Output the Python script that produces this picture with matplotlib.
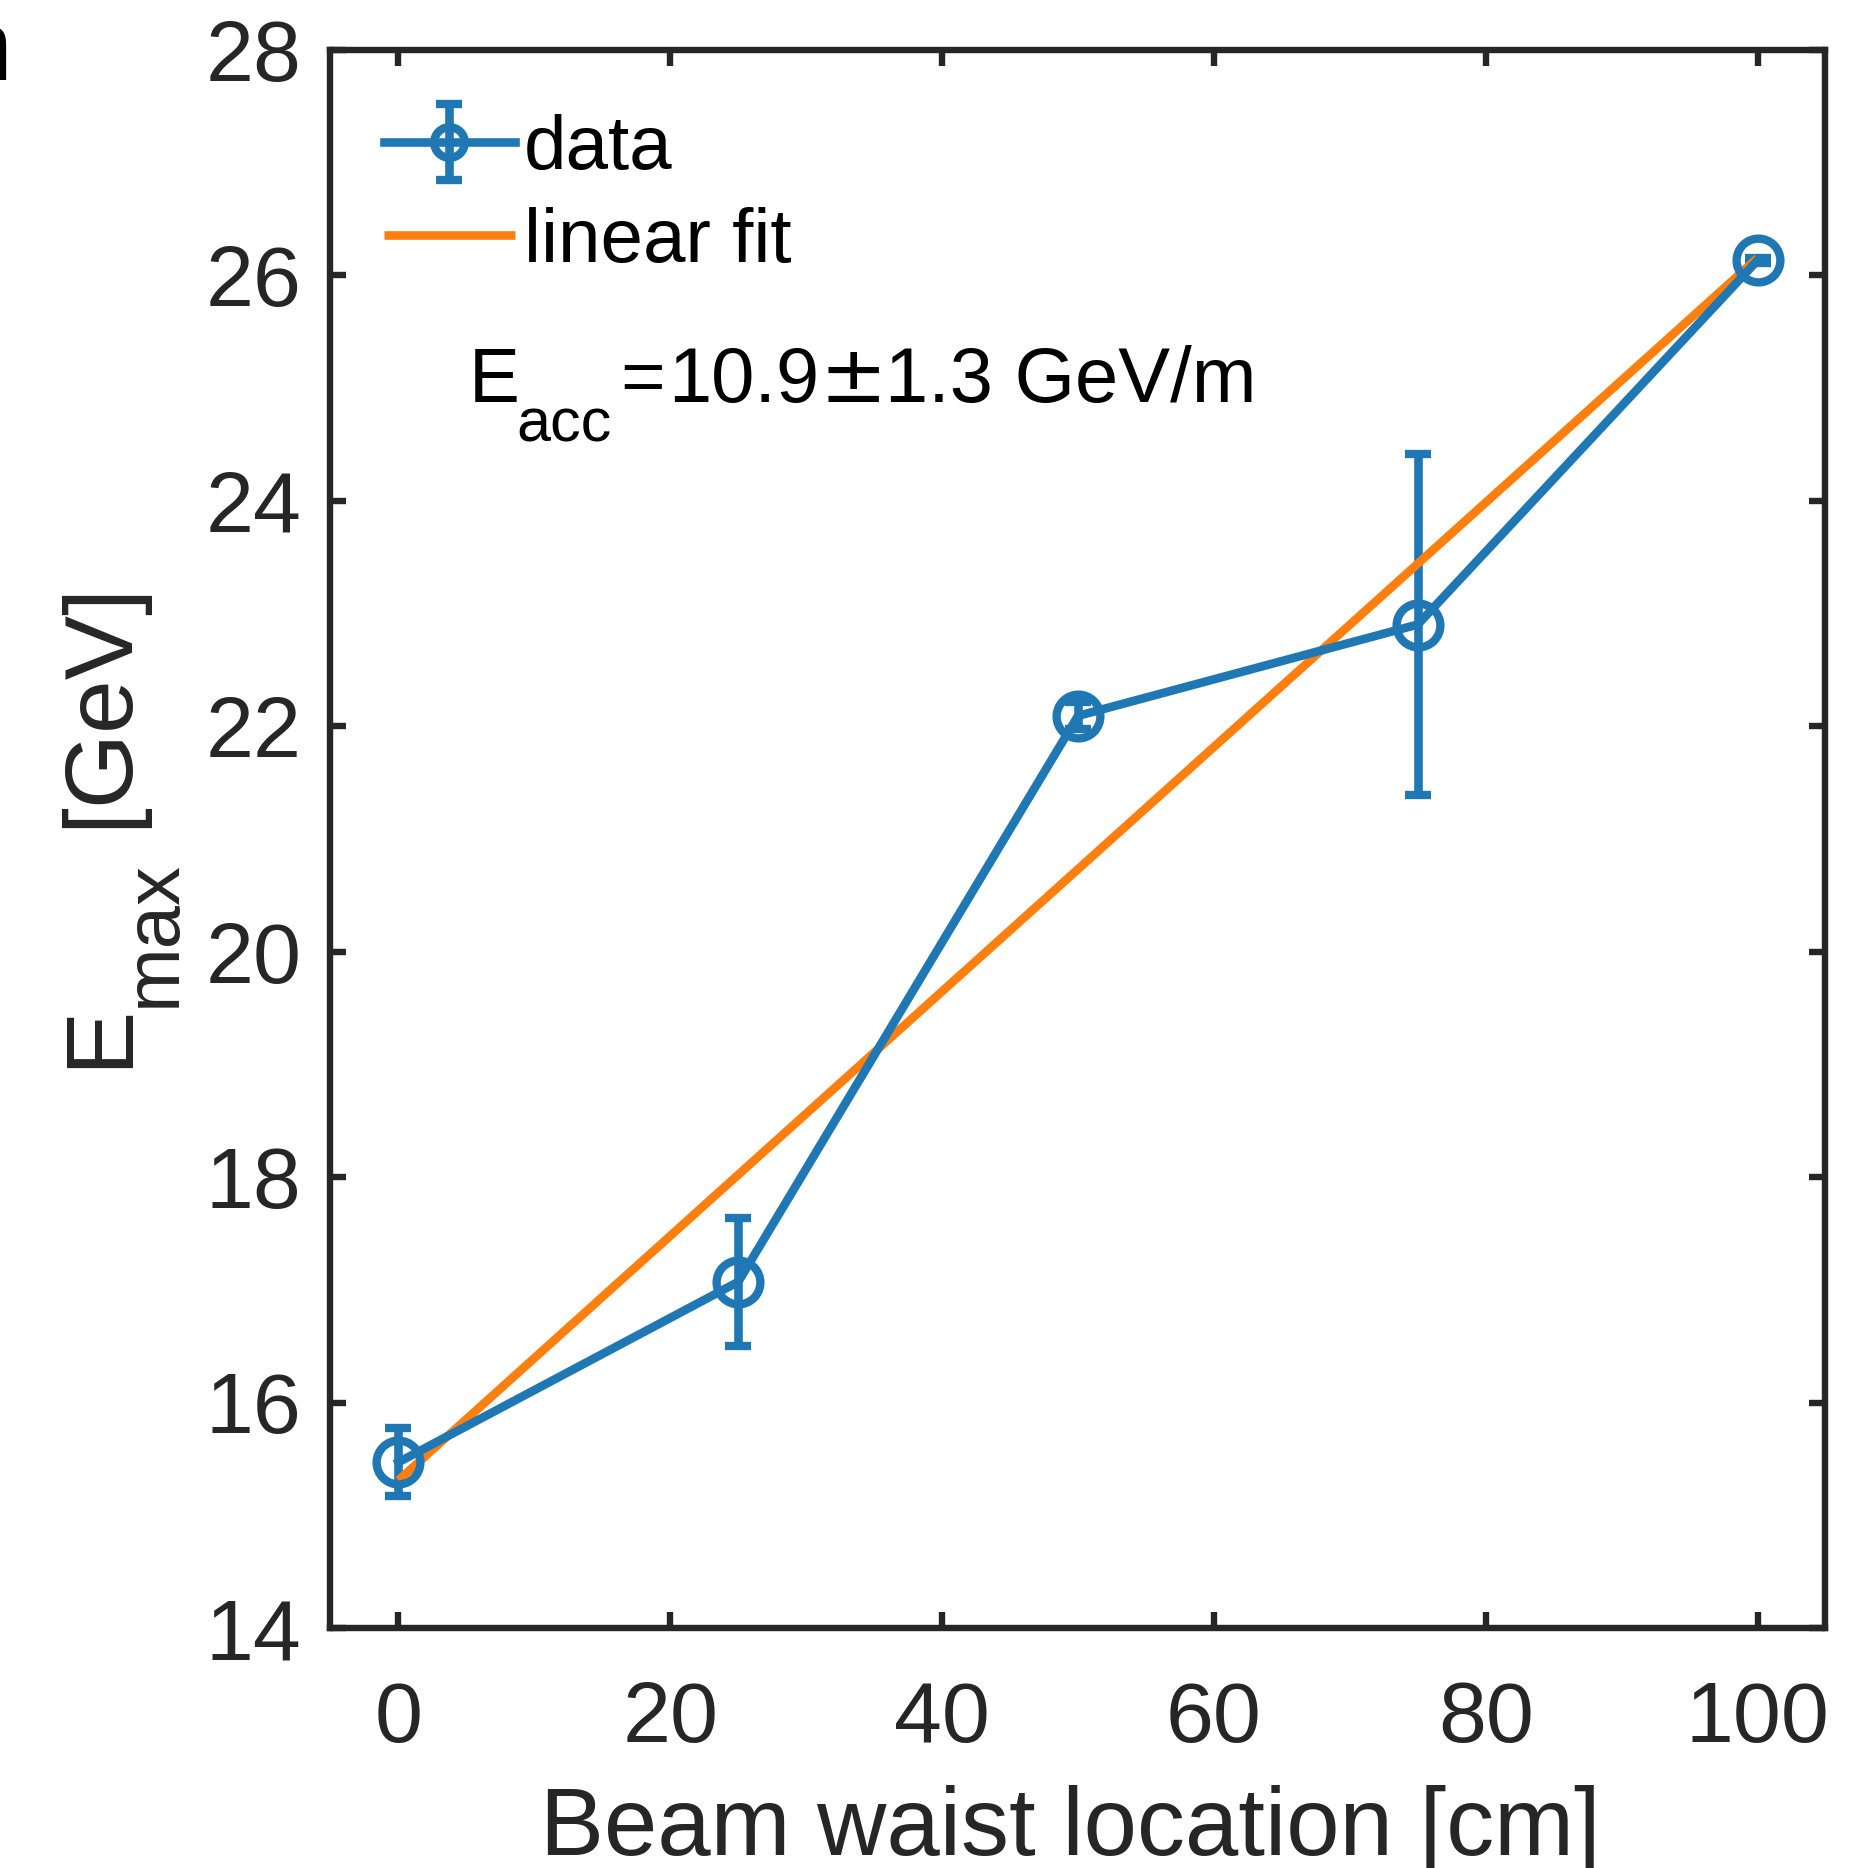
import matplotlib
matplotlib.use('Agg')
import matplotlib.pyplot as plt

W, H = 1874, 1868
DPI = 100

# ---- data ----
waist_cm = [0, 25, 50, 75, 100]
e_max_gev = [15.47, 17.07, 22.09, 22.90, 26.13]
e_max_err = [0.30, 0.57, 0.12, 1.51, 0.02]
fit_x = [0, 100]
fit_y = [15.31, 26.15]
x_ticks = [0, 20, 40, 60, 80, 100]
y_ticks = [14, 16, 18, 20, 22, 24, 26, 28]
legend_labels = ['data', 'linear fit']

BLUE = '#1f77b4'
ORANGE = '#ff7f0e'
DARK = '#262626'

plt.rcParams['font.family'] = ['Liberation Sans', 'DejaVu Sans']

fig = plt.figure(figsize=(W / DPI, H / DPI), dpi=DPI)


def fx(px):
    return px / W


def fy(py):
    return 1 - py / H


AX_L, AX_R, AX_T, AX_B = 330.5, 1825.5, 49.5, 1628
ax = fig.add_axes([fx(AX_L), fy(AX_B), (AX_R - AX_L) / W, (AX_B - AX_T) / H])

LW = 6.2
h_data = ax.errorbar(waist_cm, e_max_gev, yerr=e_max_err, fmt='-o', color=BLUE,
                     lw=LW, ms=31.5, mfc='none', mew=6.0, capsize=9.7,
                     capthick=LW, elinewidth=LW, label=legend_labels[0])
h_fit, = ax.plot(fit_x, fit_y, '-', color=ORANGE, lw=LW,
                 solid_capstyle='butt', label=legend_labels[1])

ax.set_xlim(-5, 105)
ax.set_ylim(14, 28)
ax.set_xticks(x_ticks)
ax.set_yticks(y_ticks)
ax.tick_params(axis='both', which='major', direction='in', length=11.5,
               width=4.6, colors=DARK, labelsize=62, top=True, right=True)
ax.tick_params(axis='x', pad=37.4)
ax.tick_params(axis='y', pad=21)
for s in ax.spines.values():
    s.set_linewidth(4.6)
    s.set_color(DARK)

ax.set_xlabel('Beam waist location [cm]', fontsize=69, color=DARK)
ax.xaxis.set_label_coords((1070 - AX_L) / (AX_R - AX_L), -(1785 - AX_B) / (AX_B - AX_T))

leg = ax.legend(handles=[h_data, h_fit], labels=legend_labels,
                loc='upper left', bbox_to_anchor=(fx(384), fy(114)),
                bbox_transform=fig.transFigure, frameon=False, borderpad=0,
                borderaxespad=0, handlelength=1.71, handletextpad=0.12,
                labelspacing=0.29, fontsize=55, markerscale=0.7)
for t in leg.get_texts():
    t.set_color('black')

# y label (rotated, with subscript)
fig.text(fx(126), fy(1068), 'E', rotation=90, rotation_mode='anchor',
         ha='left', va='baseline', fontsize=69.5, color=DARK)
fig.text(fx(175), fy(1007), 'max', rotation=90, rotation_mode='anchor',
         ha='left', va='baseline', fontsize=56, color=DARK)
fig.text(fx(126), fy(828), '[GeV]', rotation=90, rotation_mode='anchor',
         ha='left', va='baseline', fontsize=69.5, color=DARK)

# annotation E_acc = 10.9 ± 1.3 GeV/m
fig.text(fx(469), fy(402), 'E', ha='left', va='baseline', fontsize=55, color='black')
fig.text(fx(516), fy(442), 'acc', ha='left', va='baseline', fontsize=44, color='black')
fig.text(fx(620), fy(402), '=', ha='left', va='baseline', fontsize=55, color='black')
fig.text(fx(668), fy(402), '10.9', ha='left', va='baseline', fontsize=56, color='black')
fig.text(fx(853), fy(402), '±', ha='center', va='baseline', fontsize=58,
         color='black', family=['DejaVu Sans'])
fig.text(fx(885), fy(402), '1.3 GeV/m', ha='left', va='baseline', fontsize=56, color='black')

# cut-off letter from a neighbouring panel at the top-left edge
fig.text(fx(12), fy(80), 'n', ha='right', va='baseline', fontsize=72, color='black')

fig.savefig('out.png', dpi=DPI)
